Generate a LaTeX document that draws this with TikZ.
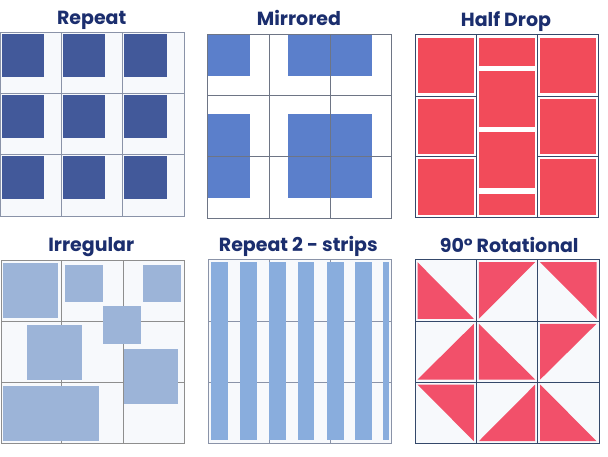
\documentclass[tikz,border=0pt]{standalone}
\usepackage{fontspec}
\setmainfont{Poppins}
\definecolor{titlenavy}{HTML}{1B2E6E}
\definecolor{lightbg}{HTML}{F7F9FC}
\definecolor{repeatblue}{HTML}{42599A}
\definecolor{mirrorblue}{HTML}{5B7FCB}
\definecolor{halfred}{HTML}{F24B5A}
\definecolor{irregblue}{HTML}{9CB4D8}
\definecolor{stripblue}{HTML}{89ADDD}
\definecolor{rotred}{HTML}{F2506A}
\definecolor{gridgray}{HTML}{8A93A8}
\definecolor{darkgrid}{HTML}{6E7585}
\definecolor{plaingray}{HTML}{8E8E8E}
\definecolor{navyline}{HTML}{34486A}
\begin{document}
\begin{tikzpicture}[x=1pt,y=-1pt,
  title/.style={font=\fontsize{19}{19}\selectfont\bfseries, text=titlenavy, inner sep=0pt, anchor=base},
  gridline/.style={line width=0.9pt}]
\useasboundingbox (0,0) rectangle (608,456);
\fill[white] (0,0) rectangle (608,456);

% ---------- titles ----------
\node[title] (t1) at (91.7,24.7) {Repeat};
\node[title] (t2) at (299,25) {Mirrored};
\node[title] (t3) at (506,26) {Half Drop};
\node[title] (t4) at (91.3,251.7) {Irregular};
\node[title] (t5) at (298.3,251.7) {Repeat 2 - strips};
\node[title] (t6) at (509.2,252.3) {90° Rotational};

% ---------- Panel 1: Repeat ----------
\fill[lightbg] (0.5,32.3) rectangle (184,216);
\foreach \x in {1.7,63,124.3}
  \foreach \y in {34.3,95.3,156.3}
    \fill[repeatblue] (\x,\y) rectangle ++(42.3,42.3);
\draw[gridline,gridgray] (0.5,32.3) rectangle (184,216);
\draw[gridline,gridgray] (61.3,32.3) -- (61.3,216) (122.7,32.3) -- (122.7,216)
  (0.5,93.7) -- (184,93.7) (0.5,154.7) -- (184,154.7);

% ---------- Panel 2: Mirrored ----------
\fill[mirrorblue] (207.3,34) rectangle (250,76.3);
\fill[mirrorblue] (288,34) rectangle (372.3,76.3);
\fill[mirrorblue] (207.3,114.3) rectangle (250,198.3);
\fill[mirrorblue] (288,114.3) rectangle (372.3,198.3);
\draw[gridline,darkgrid] (207.3,34) rectangle (391.3,218);
\draw[gridline,darkgrid] (269,34) -- (269,218) (330.3,34) -- (330.3,218)
  (207.3,95.3) -- (391.3,95.3) (207.3,156.3) -- (391.3,156.3);

% ---------- Panel 3: Half Drop ----------
\foreach \y/\h in {37.7/93.3,98.7/154.3,159.3/215}{
  \fill[halfred] (418.3,\y) rectangle (474.3,\h);
  \fill[halfred] (540.3,\y) rectangle (596.3,\h);
}
\foreach \y/\h in {37.7/65.7,71/127,132/187.7,194/215}
  \fill[halfred] (478.7,\y) rectangle (534.7,\h);
\draw[gridline,navyline] (415,34.3) rectangle (598.7,217.3);
\draw[gridline,navyline] (476.3,34.3) -- (476.3,217.3) (537.7,34.3) -- (537.7,217.3)
  (415,96) -- (476.3,96) (415,156.3) -- (476.3,156.3)
  (537.7,96) -- (598.7,96) (537.7,156.3) -- (598.7,156.3);

% ---------- Panel 4: Irregular ----------
\fill[lightbg] (1.7,260.7) rectangle (184,443.3);
\draw[gridline,plaingray] (1.7,260.7) rectangle (184,443.3);
\draw[gridline,plaingray] (61.3,260.7) -- (61.3,443.3) (123,260.7) -- (123,443.3)
  (1.7,321.7) -- (184,321.7) (1.7,382.7) -- (184,382.7);
\fill[irregblue] (3.3,263.3) rectangle (58.3,318.3);
\fill[irregblue] (65,265) rectangle (102.7,302.3);
\fill[irregblue] (143.3,265) rectangle (181,302.3);
\fill[irregblue] (103,306) rectangle (140.7,343.7);
\fill[irregblue] (27,324.7) rectangle (82,379.7);
\fill[irregblue] (123.7,348.7) rectangle (178,403.7);
\fill[irregblue] (2.7,386) rectangle (99,440.7);

% ---------- Panel 5: Repeat 2 - strips ----------
\fill[lightbg] (208,259.7) rectangle (391.3,443.3);
\draw[gridline,gridgray] (269,259.7) -- (269,443.3) (330.3,259.7) -- (330.3,443.3)
  (208,321.3) -- (391.3,321.3) (208,382) -- (391.3,382);
\foreach \x in {211,240,269,297.7,327,355}
  \fill[stripblue] (\x,262.3) rectangle ++(16.7,177.7);
\fill[stripblue] (383.3,262.3) rectangle (389.3,440);
\draw[gridline,gridgray] (208,259.7) rectangle (391.3,443.3);

% ---------- Panel 6: 90° Rotational ----------
\fill[lightbg] (415,259.7) rectangle (599,443.7);
\fill[rotred] (417.5,262.2) -- (417.5,318.8) -- (473.8,318.8) -- cycle;
\fill[rotred] (478.8,262.2) -- (535.2,262.2) -- (478.8,318.8) -- cycle;
\fill[rotred] (540.2,262.2) -- (596.5,262.2) -- (596.5,318.8) -- cycle;
\fill[rotred] (417.5,379.5) -- (473.8,379.5) -- (473.8,323.8) -- cycle;
\fill[rotred] (478.8,323.8) -- (478.8,379.5) -- (535.2,379.5) -- cycle;
\fill[rotred] (540.2,323.8) -- (596.5,323.8) -- (540.2,379.5) -- cycle;
\fill[rotred] (417.5,384.5) -- (473.8,384.5) -- (473.8,441.2) -- cycle;
\fill[rotred] (478.8,441.2) -- (535.2,441.2) -- (535.2,384.5) -- cycle;
\fill[rotred] (540.2,384.5) -- (540.2,441.2) -- (596.5,441.2) -- cycle;
\draw[gridline,navyline] (415,259.7) rectangle (599,443.7);
\draw[gridline,navyline] (476.3,259.7) -- (476.3,443.7) (537.7,259.7) -- (537.7,443.7)
  (415,321.3) -- (599,321.3) (415,382) -- (599,382);
\end{tikzpicture}
\end{document}
